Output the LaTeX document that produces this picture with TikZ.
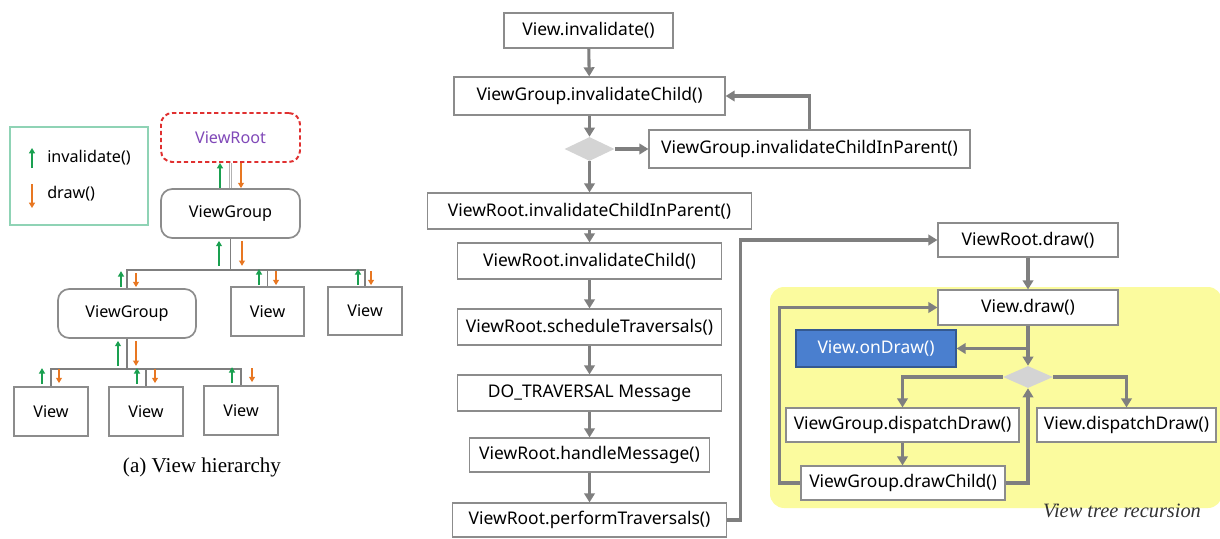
\documentclass[tikz,border=0pt]{standalone}
\usepackage{fontspec}
\setmainfont{Noto Sans}
\newfontfamily\capfont{Liberation Serif}
\usetikzlibrary{shapes.geometric,arrows.meta,calc}
\definecolor{linegray}{HTML}{7F7F7F}
\definecolor{boxgray}{HTML}{8C8C8C}
\definecolor{invgreen}{HTML}{1AA050}
\definecolor{drworange}{HTML}{E87722}
\definecolor{rootred}{HTML}{E03030}
\definecolor{rootpurple}{HTML}{8048B8}
\definecolor{legendteal}{HTML}{8FD3B5}
\definecolor{recyellow}{HTML}{FBFB9E}
\definecolor{ondrawblue}{HTML}{4A7FCF}
\definecolor{decgray}{HTML}{D4D4D4}
\begin{document}
\begin{tikzpicture}[
  font=\fontsize{11.5}{13}\selectfont,
  sz/.style 2 args={minimum width=#1*0.025cm, minimum height=#2*0.025cm},
  fbox/.style={draw=boxgray, line width=0.8pt, fill=white, inner sep=0pt, font=\fontsize{12.4}{14}\selectfont},
  tbox/.style={draw=boxgray, line width=1.2pt, rounded corners=8pt, fill=white, inner sep=0pt},
  vbox/.style={draw=boxgray, line width=1.2pt, fill=white, inner sep=0pt},
  dec/.style={diamond, aspect=2.1, fill=decgray, draw=none, inner sep=0pt},
  flow/.style={draw=linegray, line width=2.2pt, -{Triangle[length=6.5pt,width=7.5pt]}},
  tree/.style={draw=linegray, line width=1pt},
  inv/.style={draw=invgreen, line width=1.4pt, -{Triangle[length=3.8pt,width=4.2pt]}},
  drw/.style={draw=drworange, line width=1.4pt, -{Triangle[length=3.8pt,width=4.2pt]}},
]
\begin{scope}[x=0.025cm, y=-0.025cm] % 1 unit = 1 px, y down
\useasboundingbox (0,0) rectangle (1220,538);
%%
%% (a) view hierarchy
%%
%% legend
\node[fbox, draw=legendteal, sz={138}{98}] (legend) at (79,176) {};
\coordinate (lgA) at (32,168);
\coordinate (lgB) at (32,184);
\draw[inv] (lgA) -- ++(0,-20);
\draw[drw] (lgB) -- ++(0,24);
\node[anchor=west, inner sep=0pt] (lgInv) at (47,158) {invalidate()};
\node[anchor=west, inner sep=0pt] (lgDrw) at (47,194) {draw()};
%% boxes
\node[tbox, draw=rootred, dashed, dash pattern=on 3pt off 2pt, line width=1.4pt,
      sz={139}{49}, text=rootpurple] (root) at (230.5,137.5) {ViewRoot};
\node[tbox, sz={139}{49}] (vg1) at (230.5,213.5) {ViewGroup};
\node[tbox, sz={138}{49}] (vg2) at (127,313.5) {ViewGroup};
\node[vbox, sz={73}{49}] (vA) at (267.5,311.5) {View};
\node[vbox, sz={74}{48}] (vB) at (365,311) {View};
\node[vbox, sz={74}{49}] (c1) at (51,411.5) {View};
\node[vbox, sz={74}{49}] (c2) at (146,411.5) {View};
\node[vbox, sz={74}{49}] (c3) at (241,410.5) {View};
%% links
\draw[draw=gray!60, line width=0.6pt, double=white, double distance=0.9pt] (root.south) -- (vg1.north);
\draw[inv] ($(vg1.north)+(-10.5,0)$) -- ($(root.south)+(-10.5,0)$);
\draw[drw] ($(root.south)+(10.5,0)$) -- ($(vg1.north)+(10.5,0)$);
%% first level
\draw[tree] (vg1.south) -- ++(0,31) coordinate (bus1);
\draw[tree] (vg2.north) |- (vB.north |- bus1) -- (vB.north);
\draw[tree] (vA.north) -- (vA.north |- bus1);
\draw[inv] ($(vg1.south)+(-11.5,27)$) -- ($(vg1.south)+(-11.5,2)$);
\draw[drw] ($(vg1.south)+(11.5,2)$) -- ($(vg1.south)+(11.5,27)$);
\foreach \n/\a/\b in {vg2/-6/9, vA/-8.5/8.5, vB/-7/6}{
  \draw[inv] ($(\n.north)+(\a,-1)$) -- ++(0,-16);
  \draw[drw] ($(\n.north)+(\b,-15)$) -- ++(0,14);
}
%% second level
\draw[tree] (vg2.south) -- ++(0,30) coordinate (bus2);
\draw[tree] (c1.north) |- (c3.north |- bus2) -- (c3.north);
\draw[tree] (c2.north) -- (c2.north |- bus2);
\draw[inv] ($(vg2.south)+(-9,27)$) -- ($(vg2.south)+(-9,2)$);
\draw[drw] ($(vg2.south)+(9,2)$) -- ($(vg2.south)+(9,27)$);
\foreach \n/\a/\b in {c1/-9/8, c2/-9/9, c3/-9/11}{
  \draw[inv] ($(\n.north)+(\a,-2)$) -- ++(0,-16);
  \draw[drw] ($(\n.north)+(\b,-17)$) -- ++(0,14);
}
\node[font=\capfont\fontsize{15}{17}\selectfont] (capA) at (202,467) {(a) View hierarchy};
%%
%% invalidate / draw flow
%%
\fill[recyellow, rounded corners=10pt] (770,287) rectangle (1222,508);
\node[font=\capfont\itshape\fontsize{14.5}{16}\selectfont, text=black!80] (recur) at (1122,511) {View tree recursion};
%% boxes
\node[fbox, sz={169}{35}] (inv) at (588.5,30.5) {View.invalidate()};
\node[fbox, sz={271}{38}] (igc) at (589.5,96) {ViewGroup.invalidateChild()};
\node[dec, sz={50}{24}] (dec1) at (589.5,149) {};
\node[fbox, sz={321}{38}] (igcp) at (809.5,149) {ViewGroup.invalidateChildInParent()};
\node[fbox, sz={324}{36}] (ricp) at (589.5,211) {ViewRoot.invalidateChildInParent()};
\node[fbox, sz={264}{36}] (ric) at (589.5,261) {ViewRoot.invalidateChild()};
\node[fbox, sz={264}{36}] (sched) at (589.5,327) {ViewRoot.scheduleTraversals()};
\node[fbox, sz={264}{36}] (msg) at (589.5,393) {DO\_TRAVERSAL Message};
\node[fbox, sz={240}{34}] (hmsg) at (589.5,455) {ViewRoot.handleMessage()};
\node[fbox, sz={274}{34}] (perf) at (589.5,520) {ViewRoot.performTraversals()};
\node[fbox, sz={180}{34}] (rdraw) at (1028,240) {ViewRoot.draw()};
\node[fbox, sz={180}{35}] (vdraw) at (1028,307.5) {View.draw()};
\node[fbox, draw=ondrawblue!70!black, fill=ondrawblue, text=white, sz={160}{37}] (ondraw) at (876,348.5) {View.onDraw()};
\node[dec, sz={50}{22}] (dec2) at (1028,377) {};
\node[fbox, sz={233}{34}] (gdisp) at (902.5,425) {ViewGroup.dispatchDraw()};
\node[fbox, sz={179}{34}] (vdisp) at (1126.5,425) {View.dispatchDraw()};
\node[fbox, sz={204}{34}] (child) at (903,483) {ViewGroup.drawChild()};
%% arrows
\draw[flow] (inv) -- (igc);
\draw[flow] (igc) -- (dec1);
\draw[flow] (dec1) -- (igcp);
\draw[flow] (igcp.north) |- (igc.east);
\draw[flow] (dec1) -- (ricp);
\draw[flow] (ricp) -- (ric);
\draw[flow] (ric) -- (sched);
\draw[flow] (sched) -- (msg);
\draw[flow] (msg) -- (hmsg);
\draw[flow] (hmsg) -- (perf);
\draw[flow] (perf.east) -- ++(13,0) |- (rdraw.west);
\draw[flow] (rdraw) -- (vdraw);
\draw[flow] (vdraw) -- (dec2);
\draw[flow] (vdraw.south |- ondraw.east) -- (ondraw.east);
\draw[flow] (dec2.west) -| (gdisp.north);
\draw[flow] (dec2.east) -| (vdisp.north);
\draw[flow] (gdisp) -- (gdisp.south |- child.north);
\draw[flow] (child.east) -| (dec2.south);
\draw[flow] (child.west) -- ++(-21,0) |- (vdraw.west);
\end{scope}
\end{tikzpicture}
\end{document}
